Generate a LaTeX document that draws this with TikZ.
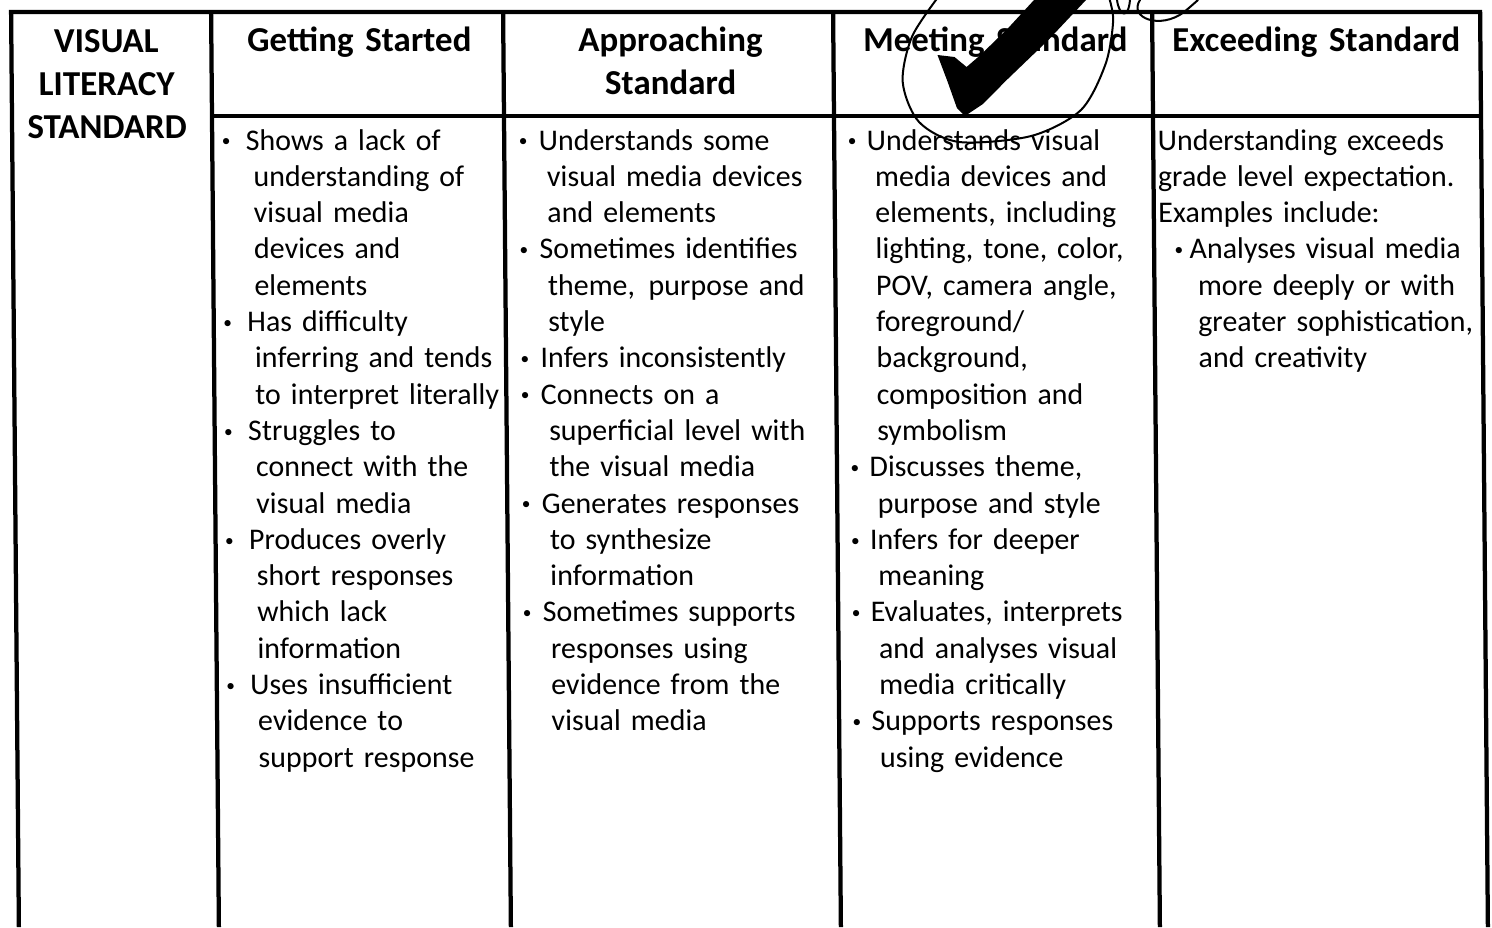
\documentclass[tikz,border=0pt]{standalone}
\usepackage{fontspec}
\setmainfont{Carlito}
\usepackage{tikz}
\usetikzlibrary{calc}

\newlength{\bulw}
\newlength{\cntw}
\newcommand{\bul}{\makebox[\bulw][l]{\raisebox{0.22ex}{\fontsize{7}{7}\selectfont\textbullet}}}
\newcommand{\cnt}{\hspace*{\cntw}}
\newcommand{\bodyfont}{\fontsize{12}{14.52}\selectfont}
\newcommand{\headfont}{\bfseries\fontsize{14}{17.3}\selectfont}

\tikzset{
  rule/.style={line width=1.7pt},
  head/.style={anchor=base, inner sep=0pt, text width=130pt, align=center, font=\headfont},
  body/.style 2 args={anchor=base west, inner sep=0pt, text width=150pt, align=left, font=\bodyfont,
    execute at begin node={\setlength{\bulw}{#1}\setlength{\cntw}{#2}}},
  pen/.style={line width=0.8pt, line cap=round, line join=round}
}

\begin{document}
\begin{tikzpicture}[x=0.4pt, y=-0.4pt, line join=miter]
  \useasboundingbox (0,0) rectangle (1492,927);
  \begin{scope}[xslant=-0.0085, transform shape]
  %--- Table frame
    \draw[rule] (11,927) -- (11,12) -- (1480,12) -- (1480,927);
    \foreach \x in {211,503,833,1152}
      \draw[rule] (\x,12) -- (\x,927);
    \draw[rule] (211,116) -- (1480,116);
  %--- Header row
    \node[head] (visual) at (106,52) {VISUAL\\LITERACY\\STANDARD};
    \node[head] (getting) at (359,51) {Getting Started};
    \node[head] (approaching) at (670,51) {Approaching\\Standard};
    \node[head] (meeting) at (995,51) {Meeting Standard};
    \node[head] (exceeding) at (1316,51) {Exceeding Standard};
  %--- Getting Started
    \node[body={9.6pt}{12.6pt}] (gettingtext) at (220,150) {%
      \bul Shows a lack of\\
      \cnt understanding of\\
      \cnt visual media\\
      \cnt devices and\\
      \cnt elements\\
      \bul Has difficulty\\
      \cnt inferring and tends\\
      \cnt to interpret literally\\
      \bul Struggles to\\
      \cnt connect with the\\
      \cnt visual media\\
      \bul Produces overly\\
      \cnt short responses\\
      \cnt which lack\\
      \cnt information\\
      \bul Uses insufficient\\
      \cnt evidence to\\
      \cnt support response};
  %--- Approaching Standard
    \node[body={8pt}{11.2pt}] (approachingtext) at (517,150) {%
      \bul Understands some\\
      \cnt visual media devices\\
      \cnt and elements\\
      \bul Sometimes identifies\\
      \cnt theme,\hspace{0.45em}purpose and\\
      \cnt style\\
      \bul Infers inconsistently\\
      \bul Connects on a\\
      \cnt superficial level with\\
      \cnt the visual media\\
      \bul Generates responses\\
      \cnt to synthesize\\
      \cnt information\\
      \bul Sometimes supports\\
      \cnt responses using\\
      \cnt evidence from the\\
      \cnt visual media};
  %--- Meeting Standard
    \node[body={7.6pt}{10.8pt}] (meetingtext) at (846,150) {%
      \bul Understands visual\\
      \cnt media devices and\\
      \cnt elements, including\\
      \cnt lighting, tone, color,\\
      \cnt POV, camera angle,\\
      \cnt foreground/\\
      \cnt background,\\
      \cnt composition and\\
      \cnt symbolism\\
      \bul Discusses theme,\\
      \cnt purpose and style\\
      \bul Infers for deeper\\
      \cnt meaning\\
      \bul Evaluates, interprets\\
      \cnt and analyses visual\\
      \cnt media critically\\
      \bul Supports responses\\
      \cnt using evidence};
  %--- Exceeding Standard
    \node[body={6pt}{15.6pt}] (exceedingtext) at (1156,150) {%
      Understanding exceeds\\
      grade level expectation.\\
      Examples include:\\
      \hspace*{6.4pt}\bul Analyses visual media\\
      \cnt more deeply or with\\
      \cnt greater sophistication,\\
      \cnt and creativity};
  %--- Hand-drawn mark
    \fill (937,55) -- (954,57) -- (966,67) -- (980,55) -- (1008,28) -- (1034,0)
      -- (1086,0) -- (1048,40) -- (1006,80) -- (982,104) -- (964,116)
      -- (956,108) -- (947,82) -- cycle;
    \draw[pen] plot[smooth] coordinates {(942,-8) (912,36) (902,82) (918,122)
      (958,142) (1030,136) (1080,110) (1105,64) (1113,20) (1108,-6)};
    \draw[pen] (1117,0) .. controls (1119,16) and (1128,20) .. (1130,0);
    \draw[pen] (1140,0) .. controls (1128,18) and (1160,30) .. (1184,12)
      .. controls (1190,7) .. (1198,0);
  \end{scope}
\end{tikzpicture}
\end{document}
